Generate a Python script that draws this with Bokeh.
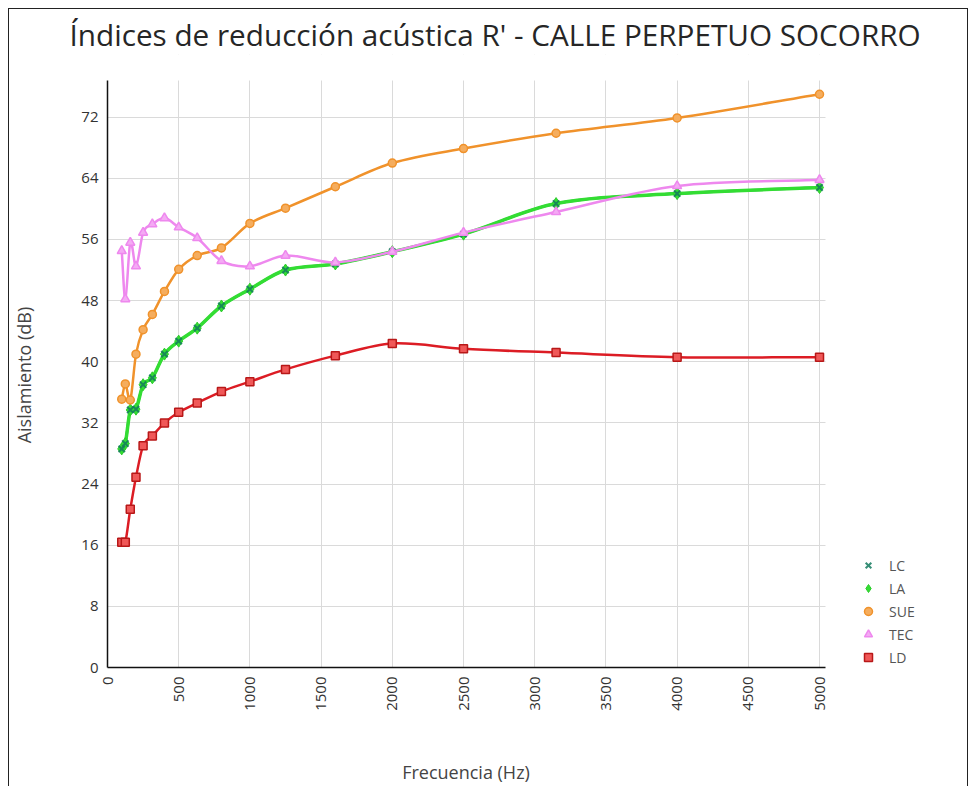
import math
from bokeh.plotting import figure
from bokeh.models import (Range1d, FixedTicker, Legend, LegendItem,
                          ColumnDataSource, BoxAnnotation)
from bokeh.embed import file_html
from bokeh.resources import INLINE

# ---- data ----
freq = [100, 125, 160, 200, 250, 315, 400, 500, 630, 800, 1000, 1250,
        1600, 2000, 2500, 3150, 4000, 5000]
lc = [28.6, 29.3, 33.7, 33.8, 37.0, 37.9, 41.0, 42.7, 44.4, 47.3, 49.5, 52.0,
      52.8, 54.4, 56.7, 60.7, 62.0, 62.8]
la = [28.6, 29.3, 33.7, 33.8, 37.0, 37.9, 41.0, 42.7, 44.4, 47.3, 49.5, 52.0,
      52.8, 54.4, 56.7, 60.7, 62.0, 62.8]
sue = [35.1, 37.1, 35.0, 41.0, 44.2, 46.2, 49.2, 52.1, 53.9, 54.9, 58.1, 60.1,
       62.9, 66.0, 67.9, 69.9, 71.9, 75.0]
tec = [54.5, 48.2, 55.6, 52.5, 56.9, 58.0, 58.8, 57.6, 56.2, 53.2, 52.5, 53.9,
       53.0, 54.4, 56.9, 59.6, 63.0, 63.8]
ld = [16.4, 16.4, 20.7, 24.9, 29.0, 30.3, 32.0, 33.4, 34.6, 36.1, 37.4, 39.0,
      40.8, 42.4, 41.7, 41.2, 40.6, 40.6]

x_ticks = list(range(0, 5001, 500))
y_ticks = list(range(0, 73, 8))

title_text = "Índices de reducción acústica R' - CALLE PERPETUO SOCORRO"
x_label = "Frecuencia (Hz)"
y_label = "Aislamiento (dB)"
FONT = "Open Sans"
NBSP = "\u00a0"

# axis extents (data units) of the drawn plot area
X_AXIS_END = 5042
Y_AXIS_END = 76.8

# layout (pixels inside the figure)
W, H = 960, 778
LEFT, TOP, BOTTOM = 98, 45, 120
AXIS_RIGHT_PX = 816      # where the x axis ends
AXIS_TOP_PX = 71         # where the y axis ends
frame_w = W - LEFT
frame_h = H - TOP - BOTTOM
x_end = X_AXIS_END * frame_w / (AXIS_RIGHT_PX - LEFT)
y_end = Y_AXIS_END * frame_h / (H - BOTTOM - AXIS_TOP_PX)


def smooth_segments(xs, ys):
    """Cubic Hermite (Catmull-Rom style) control points for bezier glyphs."""
    n = len(xs)
    m = []
    for i in range(n):
        if i == 0:
            m.append((ys[1] - ys[0]) / (xs[1] - xs[0]))
        elif i == n - 1:
            m.append((ys[-1] - ys[-2]) / (xs[-1] - xs[-2]))
        else:
            m.append((ys[i + 1] - ys[i - 1]) / (xs[i + 1] - xs[i - 1]))
    d = dict(x0=[], y0=[], x1=[], y1=[], cx0=[], cy0=[], cx1=[], cy1=[])
    for i in range(n - 1):
        dx = xs[i + 1] - xs[i]
        d["x0"].append(xs[i]); d["y0"].append(ys[i])
        d["x1"].append(xs[i + 1]); d["y1"].append(ys[i + 1])
        d["cx0"].append(xs[i] + dx / 3); d["cy0"].append(ys[i] + m[i] * dx / 3)
        d["cx1"].append(xs[i + 1] - dx / 3); d["cy1"].append(ys[i + 1] - m[i + 1] * dx / 3)
    return ColumnDataSource(d)


p = figure(width=W, height=H, output_backend="svg", toolbar_location=None,
           x_range=Range1d(0, x_end), y_range=Range1d(0, y_end),
           min_border_left=LEFT, min_border_right=0,
           min_border_top=TOP, min_border_bottom=BOTTOM)
p.styles = {"margin-left": "8px", "margin-top": "8px",
            "border-top": "1px solid #222", "border-left": "1px solid #222",
            "border-right": "1px solid #222"}
p.outline_line_color = None
p.background_fill_color = "white"
p.border_fill_color = "white"

p.title.text = title_text
p.title.align = "left"
p.title.offset = -38
p.title.standoff = 0
p.title.text_font = FONT
p.title.text_font_size = "29.7px"
p.title.text_font_style = "normal"
p.title.text_color = "#262626"

for ax in (p.xaxis[0], p.yaxis[0]):
    ax.axis_line_color = "#111111"
    ax.axis_line_width = 1.5
    ax.major_tick_line_color = None
    ax.minor_tick_line_color = None
    ax.major_tick_out = 0
    ax.major_tick_in = 0
    ax.major_label_text_font = FONT
    ax.major_label_text_font_size = "15px"
    ax.major_label_text_color = "#333333"
    ax.axis_label_text_font = FONT
    ax.axis_label_text_font_size = "18px"
    ax.axis_label_text_font_style = "normal"
    ax.axis_label_text_color = "#444444"

p.xaxis.ticker = FixedTicker(ticks=x_ticks)
p.yaxis.ticker = FixedTicker(ticks=y_ticks)
p.xaxis.bounds = (0, X_AXIS_END)
p.yaxis.bounds = (0, Y_AXIS_END)
p.xaxis.major_label_orientation = math.pi / 2
p.xaxis.major_label_standoff = 9
p.yaxis.major_label_standoff = 9
# axis labels are centred on the whole frame; trailing no-break spaces
# re-centre the visible words on the drawn axis
p.xaxis.axis_label = x_label + NBSP * 31
p.yaxis.axis_label = y_label + NBSP * 6
p.xaxis.axis_label_standoff = 46
p.yaxis.axis_label_standoff = 42

p.xgrid.grid_line_color = "#dadada"
p.ygrid.grid_line_color = "#dadada"

# white masks so that the grid stops where the axes stop
p.add_layout(BoxAnnotation(left=X_AXIS_END, fill_color="white", fill_alpha=1,
                           line_color=None, level="underlay"))
p.add_layout(BoxAnnotation(bottom=Y_AXIS_END, fill_color="white", fill_alpha=1,
                           line_color=None, level="underlay"))

C_LC = "#137a5e"
C_LA = "#33dd33"
C_SUE = "#f0922b"
C_TEC = "#ee88ee"
C_LD = "#dc1c24"

seg_args = dict(x0="x0", y0="y0", x1="x1", y1="y1", cx0="cx0", cy0="cy0",
                cx1="cx1", cy1="cy1")

# LC line (under LA)
p.bezier(source=smooth_segments(freq, lc), line_color=C_LC, line_width=2.5,
         **seg_args)
# LA line + markers
p.bezier(source=smooth_segments(freq, la), line_color=C_LA, line_width=3.5,
         **seg_args)
r_la = p.scatter(freq, la, marker="diamond", size=12, fill_color=C_LA,
                 line_color="#2ccc2c", line_width=1)
r_lc = p.scatter(freq, lc, marker="x", size=9, line_color=C_LC,
                 line_width=2, line_alpha=0.85)

# SUE
p.bezier(source=smooth_segments(freq, sue), line_color=C_SUE, line_width=2.5,
         **seg_args)
r_sue = p.scatter(freq, sue, marker="circle", size=8, fill_color="#f5ad5e",
                  line_color=C_SUE, line_width=1.5)

# TEC
p.bezier(source=smooth_segments(freq, tec), line_color=C_TEC, line_width=2.5,
         **seg_args)
r_tec = p.scatter(freq, tec, marker="triangle", size=9, fill_color="#f4aaf4",
                  line_color=C_TEC, line_width=1.5)

# LD
p.bezier(source=smooth_segments(freq, ld), line_color=C_LD, line_width=2.5,
         **seg_args)
r_ld = p.scatter(freq, ld, marker="square", size=8, fill_color="#f05858",
                 line_color="#b81818", line_width=1.5)

legend = Legend(items=[LegendItem(label="LC", renderers=[r_lc]),
                       LegendItem(label="LA", renderers=[r_la]),
                       LegendItem(label="SUE", renderers=[r_sue]),
                       LegendItem(label="TEC", renderers=[r_tec]),
                       LegendItem(label="LD", renderers=[r_ld])],
                location=(751, 0), margin=0, padding=0, spacing=3,
                label_standoff=11, glyph_width=20, glyph_height=20,
                label_height=20, label_text_font=FONT,
                label_text_font_size="14px", label_text_color="#555555",
                border_line_color=None, background_fill_alpha=0)
p.add_layout(legend, "center")

open("out.html", "w").write(file_html(p, INLINE))
